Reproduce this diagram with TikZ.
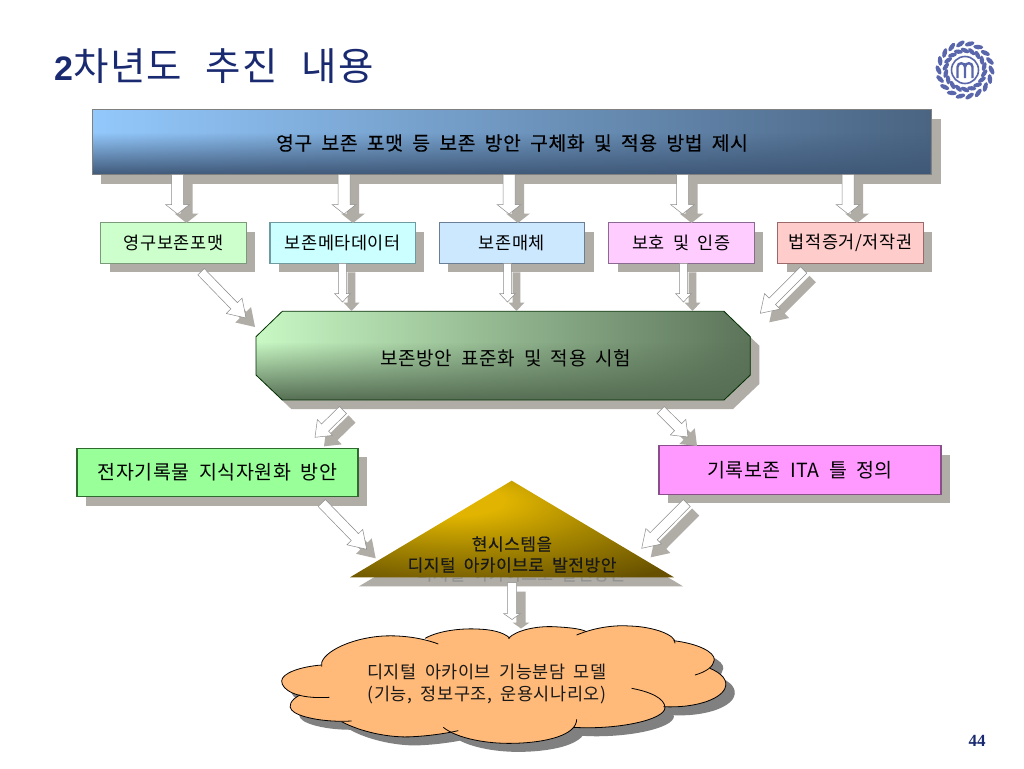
\documentclass[tikz,border=0pt]{standalone}
\usepackage{fontspec}
\setmainfont{Noto Sans CJK KR}[LetterSpace=3,WordSpace=1.9]
\newfontfamily\krheavy{Noto Sans CJK KR}[LetterSpace=3,WordSpace=1.9,FakeBold=0.3]
\newfontfamily\krtitle{Noto Sans CJK KR}[LetterSpace=4,WordSpace=2.3]
\newfontfamily\arialf{Liberation Sans}
\newfontfamily\timesf{Liberation Serif}
\usetikzlibrary{calc,fadings,shadows}
\definecolor{shadowc}{HTML}{B0ACA6}
\definecolor{navytitle}{HTML}{1A2A70}
\definecolor{gold1}{HTML}{E0B400}
\definecolor{gold2}{HTML}{A88800}
\definecolor{gold3}{HTML}{665000}
\definecolor{topbarL}{HTML}{93C8FC}
\definecolor{topbarR}{HTML}{4A6482}
\definecolor{topbarB}{HTML}{3F5878}
\definecolor{octL}{HTML}{C8F8C4}
\definecolor{octM}{HTML}{A8D4A4}
\definecolor{octR}{HTML}{5C745A}
\definecolor{octB}{HTML}{566E54}
\definecolor{box1}{HTML}{CCFFCC}
\definecolor{box2}{HTML}{CCFFFF}
\definecolor{box3}{HTML}{CCE8FF}
\definecolor{box4}{HTML}{FFCCFF}
\definecolor{box5}{HTML}{FFCCCC}
\definecolor{box6}{HTML}{99FF99}
\definecolor{box7}{HTML}{FF99FF}
\definecolor{edge1}{HTML}{7A9A7A}
\definecolor{edge2}{HTML}{6F9AA0}
\definecolor{edge3}{HTML}{6A7F95}
\definecolor{edge4}{HTML}{8A6A90}
\definecolor{edge5}{HTML}{9A6A6A}
\definecolor{edge6}{HTML}{2F6A2F}
\definecolor{edge7}{HTML}{8A4F8A}
\definecolor{cloudfill}{HTML}{FFB978}
\definecolor{logoblue}{HTML}{5A66AC}
\tikzfading[name=downdark, top color=transparent!100, bottom color=transparent!0]
\pgfdeclareradialshading{goldrad}{\pgfpoint{-10bp}{16bp}}{color(0bp)=(gold1); color(8bp)=(gold1); color(22bp)=(gold2); color(42bp)=(gold3); color(100bp)=(gold3)}
\tikzset{
  labelkr/.style={font=\fontsize{17.5}{19}\selectfont, text=black, inner sep=0pt, align=center},
  flatbox/.style={labelkr, draw=#1, line width=1.1pt, inner sep=0pt, minimum height=40.5pt,
    minimum width=145.5pt, drop shadow={shadow xshift=9pt, shadow yshift=-9pt, fill=shadowc, opacity=1}},
  arrowwhite/.style={fill=white, draw=black!45, line width=0.5pt, line join=miter},
  arrowshadow/.style={fill=shadowc, transform canvas={xshift=9pt,yshift=-9pt}},
}
% from, to, half shaft, half head, head length
\newcommand{\blockarrow}[5]{%
  \coordinate (ba-n) at ($(#2)!#5!(#1)$);
  \coordinate (ba-a) at ($(#1)!#3!90:(#2)$);
  \coordinate (ba-b) at ($(#1)!#3!-90:(#2)$);
  \coordinate (ba-c) at ($(ba-n)!#3!-90:(#2)$);
  \coordinate (ba-d) at ($(ba-n)!#4!-90:(#2)$);
  \coordinate (ba-e) at ($(ba-n)!#4!90:(#2)$);
  \coordinate (ba-f) at ($(ba-n)!#3!90:(#2)$);
  \path[arrowshadow] (ba-a)--(ba-b)--(ba-c)--(ba-d)--(#2)--(ba-e)--(ba-f)--cycle;
  \path[arrowwhite] (ba-a)--(ba-b)--(ba-c)--(ba-d)--(#2)--(ba-e)--(ba-f)--cycle;
}
\newcommand{\cloudlobes}{%
 (125,165) .. controls (60,170) and (5,190) .. (5,213) .. controls (5,240) and (50,268) .. (148,262) -- (700,220) -- cycle
 (60,255) .. controls (30,270) and (25,290) .. (35,300) .. controls (50,320) and (130,338) .. (215,333) -- (700,220) -- cycle
 (185,335) .. controls (240,365) and (330,385) .. (400,380) .. controls (440,378) and (490,372) .. (535,362) -- (700,220) -- cycle
 (490,352) .. controls (530,385) and (620,402) .. (700,400) .. controls (800,398) and (890,375) .. (890,328) -- (700,220) -- cycle
 (880,352) .. controls (1010,360) and (1155,330) .. (1155,293) -- (1100,240) -- (700,220) -- cycle
 (1150,290) .. controls (1240,295) and (1320,270) .. (1335,235) .. controls (1345,210) and (1325,190) .. (1290,175) -- (700,220) -- cycle
 (1245,195) .. controls (1280,185) and (1300,170) .. (1303,150) .. controls (1305,125) and (1250,100) .. (1180,92) -- (700,220) -- cycle
 (1185,100) .. controls (1190,75) and (1120,50) .. (1050,48) .. controls (1010,45) and (950,50) .. (890,75) -- (700,220) -- cycle
 (920,65) .. controls (900,55) and (860,52) .. (820,50) .. controls (770,48) and (710,60) .. (685,85) -- (700,220) -- cycle
 (690,85) .. controls (670,65) and (630,58) .. (590,57) .. controls (550,55) and (480,60) .. (435,85) -- (700,220) -- cycle
 (475,102) .. controls (430,85) and (370,75) .. (310,78) .. controls (200,85) and (115,135) .. (125,170) -- (700,220) -- cycle
}
\begin{document}
\begin{tikzpicture}[x=1pt,y=-1pt]
\useasboundingbox (0,0) rectangle (1024,768);
\fill[white] (0,0) rectangle (1024,768);

% title and page number
\node[anchor=base west, inner sep=0pt, text=navytitle] (title) at (54,81)
  {{\arialf\bfseries\fontsize{34}{34}\selectfont 2}{\krtitle\fontsize{38.5}{39}\selectfont 차년도 추진 내용}};
\node[inner sep=0pt, text=navytitle] (pageno) at (977,741) {\timesf\bfseries\fontsize{17}{17}\selectfont 44};

% logo
\begin{scope}[shift={(965,70)}]
  \foreach \a in {-80,-60,...,80,100,120,...,260}{
    \fill[logoblue, rotate=\a, shift={(26.5,0)}, rotate=25] (0,0) ellipse (2.3 and 5);
    \fill[logoblue, rotate=\a+10, shift={(19.5,0)}, rotate=-25] (0,0) ellipse (2.2 and 4.6);
  }
  \draw[logoblue, line width=1.6pt, fill=white] (0,0) circle (13.5);
  \draw[logoblue, line width=2.4pt] (-7.5,8) -- (-7.5,-3) .. controls (-7.5,-8) and (0,-8) .. (0,-3) -- (0,8);
  \draw[logoblue, line width=2.4pt] (0,-3) .. controls (0,-8) and (7.5,-8) .. (7.5,-3) -- (7.5,8);
\end{scope}

% top bar
\fill[shadowc] (101,118.7) rectangle (941,183.7);
\shade[left color=topbarL, right color=topbarR] (92.5,109.7) rectangle (931.5,174.7);
\fill[topbarB, path fading=downdark] (92.5,132.5) rectangle (931.5,174.7);
\draw[black!50, line width=0.8pt] (92.5,109.7) rectangle (931.5,174.7);
\node[labelkr, font=\krheavy\fontsize{19.3}{21}\selectfont] (bar) at (512,143) {영구 보존 포맷 등 보존 방안 구체화 및 적용 방법 제시};

% second row
\node[flatbox=edge1, fill=box1] (b1) at (173.5,243) {영구보존포맷};
\node[flatbox=edge2, fill=box2] (b2) at (342.7,243) {보존메타데이터};
\node[flatbox=edge3, fill=box3] (b3) at (511.8,243) {보존매체};
\node[flatbox=edge4, fill=box4] (b4) at (681.3,243) {보호 및 인증};
\node[flatbox=edge5, fill=box5] (b5) at (850.5,243) {법적증거/저작권};

% octagon
\coordinate (oct1) at (282.3,311.3); \coordinate (oct2) at (724,311.3);
\coordinate (oct3) at (750.3,336.7); \coordinate (oct4) at (750.3,375);
\coordinate (oct5) at (724,400); \coordinate (oct6) at (282.3,400);
\coordinate (oct7) at (256,375); \coordinate (oct8) at (256,336.7);
\fill[shadowc, transform canvas={xshift=9pt,yshift=-9pt}] (oct1)--(oct2)--(oct3)--(oct4)--(oct5)--(oct6)--(oct7)--(oct8)--cycle;
\shade[left color=octL, middle color=octM, right color=octR] (oct1)--(oct2)--(oct3)--(oct4)--(oct5)--(oct6)--(oct7)--(oct8)--cycle;
\begin{scope}
  \clip (oct1)--(oct2)--(oct3)--(oct4)--(oct5)--(oct6)--(oct7)--(oct8)--cycle;
  \fill[octB, path fading=downdark] (256,342) rectangle (750.3,400);
\end{scope}
\draw[black!55!green!40!black, line width=0.8pt] (oct1)--(oct2)--(oct3)--(oct4)--(oct5)--(oct6)--(oct7)--(oct8)--cycle;
\node[labelkr, font=\fontsize{19}{21}\selectfont] (octn) at (506,358) {보존방안 표준화 및 적용 시험};

% middle boxes
\node[flatbox=edge6, fill=box6, minimum width=281pt, minimum height=48.5pt, font=\fontsize{19.5}{21}\selectfont] (g) at (217.5,472.5) {전자기록물 지식자원화 방안};
\node[flatbox=edge7, fill=box7, minimum width=282pt, minimum height=48.5pt, font=\fontsize{19.5}{21}\selectfont] (p) at (800,470) {기록보존 ITA 틀 정의};

% triangle
\coordinate (tri1) at (511.7,480.7); \coordinate (tri2) at (674,577.3); \coordinate (tri3) at (350,577.3);
\fill[shadowc, transform canvas={xshift=9pt,yshift=-9pt}] (tri1)--(tri2)--(tri3)--cycle;
\node[labelkr, text=black!42, font=\krheavy\fontsize{17}{19}\selectfont] (trishadow) at (521,574) {디지털 아카이브로 발전방안};
\shade[shading=goldrad] (tri1)--(tri2)--(tri3)--cycle;
\node[labelkr, font=\krheavy\fontsize{17}{21}\selectfont, text=black!90] (tri) at (512,554.5) {현시스템을\\디지털 아카이브로 발전방안};

% cloud
\begin{scope}[x=0.3333pt,y=-0.3333pt,xshift=280pt,yshift=-610pt]
  \fill[black!50, transform canvas={xshift=9pt,yshift=-8.5pt}] \cloudlobes;
  \fill[cloudfill] \cloudlobes;
  \begin{scope}[draw=black, line width=0.8pt]
    \draw (148,262) .. controls (50,268) and (5,240) .. (5,213) .. controls (5,190) and (60,170) .. (125,165);
    \draw (60,255) .. controls (30,270) and (25,290) .. (35,300) .. controls (50,320) and (130,338) .. (215,333);
    \draw (185,335) .. controls (240,365) and (330,385) .. (400,380) .. controls (440,378) and (490,372) .. (535,362);
    \draw (490,352) .. controls (530,385) and (620,402) .. (700,400) .. controls (800,398) and (890,375) .. (890,328);
    \draw (1055,235) .. controls (1110,245) and (1155,265) .. (1155,293) .. controls (1155,330) and (1010,360) .. (880,352);
    \draw (1150,290) .. controls (1240,295) and (1320,270) .. (1335,235) .. controls (1345,210) and (1325,190) .. (1290,175);
    \draw (1245,195) .. controls (1280,185) and (1300,170) .. (1303,150) .. controls (1305,125) and (1250,100) .. (1180,92);
    \draw (1185,100) .. controls (1190,75) and (1120,50) .. (1050,48) .. controls (1010,45) and (950,50) .. (890,75);
    \draw (920,65) .. controls (900,55) and (860,52) .. (820,50) .. controls (770,48) and (710,60) .. (685,85);
    \draw (690,85) .. controls (670,65) and (630,58) .. (590,57) .. controls (550,55) and (480,60) .. (435,85);
    \draw (475,102) .. controls (430,85) and (370,75) .. (310,78) .. controls (200,85) and (115,135) .. (125,170);
  \end{scope}
\end{scope}
\node[labelkr, font=\fontsize{17.5}{21.5}\selectfont, text=black!90] (cloud) at (487,684) {디지털 아카이브 기능분담 모델\\(기능, 정보구조, 운용시나리오)};

% connector end points
\foreach \n/\x in {1/177.5,2/344,3/509,4/682.5,5/848}{
  \coordinate (ta\n) at (\x,174.7);
  \coordinate (tb\n) at (\x,214);
}
\coordinate (s1) at (201,271.7); \coordinate (e1) at (246,318);
\coordinate (s2) at (342.5,263.3); \coordinate (e2) at (342.5,302);
\coordinate (s3) at (507.5,263.3); \coordinate (e3) at (507.5,302);
\coordinate (s4) at (683.5,263.3); \coordinate (e4) at (683.5,302);
\coordinate (s5) at (803.7,270); \coordinate (e5) at (760.3,313.3);
\coordinate (s6) at (343,410); \coordinate (e6) at (315,437.3);
\coordinate (s7) at (660.7,410); \coordinate (e7) at (688,437);
\coordinate (s8) at (321.7,503); \coordinate (e8) at (366.7,549.3);
\coordinate (s9) at (686.7,503); \coordinate (e9) at (641.7,548.3);
\coordinate (s10) at (512,582.7); \coordinate (e10) at (512,619.5);

\foreach \n in {1,...,5}{\blockarrow{ta\n}{tb\n}{6pt}{12pt}{9.5pt}}
\blockarrow{s1}{e1}{4.5pt}{11pt}{17pt}
\blockarrow{s2}{e2}{3.8pt}{8pt}{8.5pt}
\blockarrow{s3}{e3}{3.8pt}{8pt}{8.5pt}
\blockarrow{s4}{e4}{3.8pt}{8pt}{8.5pt}
\blockarrow{s5}{e5}{4.5pt}{11pt}{17pt}
\blockarrow{s6}{e6}{5pt}{11pt}{14pt}
\blockarrow{s7}{e7}{5pt}{11pt}{14pt}
\blockarrow{s8}{e8}{5pt}{11pt}{17pt}
\blockarrow{s9}{e9}{5pt}{11pt}{17pt}
\blockarrow{s10}{e10}{4.7pt}{8.5pt}{6pt}
\end{tikzpicture}
\end{document}
